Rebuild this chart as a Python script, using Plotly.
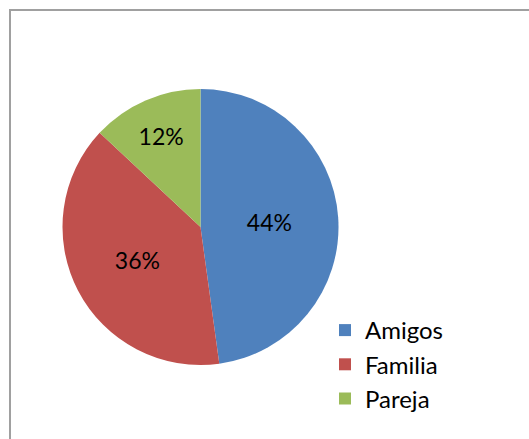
import plotly.graph_objects as go

labels = ["Amigos", "Familia", "Pareja"]
values = [44, 36, 12]
colors = ["#4F81BD", "#C0504D", "#9BBB59"]

W, H = 529, 439
cx, cy, r = 200.5, 227, 138
FONT = "Lato, Open Sans, sans-serif"

fig = go.Figure(go.Pie(
    labels=labels,
    values=values,
    sort=False,
    direction="clockwise",
    rotation=0,
    marker=dict(colors=colors, line=dict(width=0)),
    texttemplate="%{value}%",
    textposition="inside",
    insidetextorientation="horizontal",
    textfont=dict(family=FONT, size=23, color="black"),
    hoverinfo="label+value",
    domain=dict(x=[(cx - r) / W, (cx + r) / W], y=[1 - (cy + r) / H, 1 - (cy - r) / H]),
))

fig.update_layout(
    width=W, height=H,
    margin=dict(l=0, r=0, t=0, b=0),
    paper_bgcolor="white",
    plot_bgcolor="white",
    showlegend=True,
    legend=dict(
        x=325 / W, y=1 - 308 / H, xanchor="left", yanchor="top",
        font=dict(family=FONT, size=24, color="black"),
        itemwidth=30,
        bgcolor="rgba(0,0,0,0)",
    ),
    shapes=[dict(
        type="rect", xref="paper", yref="paper",
        x0=10 / W, x1=1.05, y0=-0.05, y1=1 - 10 / H,
        line=dict(color="#a0a0a0", width=2), fillcolor="rgba(0,0,0,0)",
        layer="below",
    )],
)

fig.write_html(
    "out.html",
    config={"displayModeBar": False},
    post_script="document.body.style.margin='0';document.body.style.overflow='hidden';",
)
